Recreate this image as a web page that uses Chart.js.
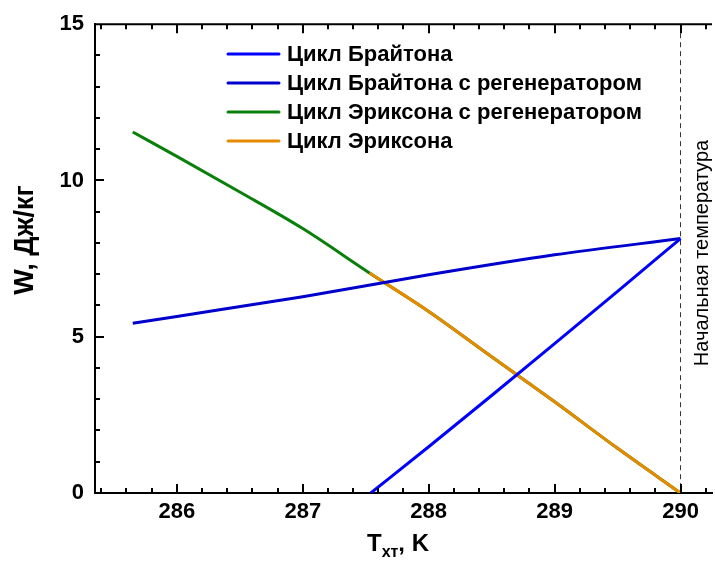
<!DOCTYPE html>
<html>
<head>
<meta charset="utf-8">
<script src="https://cdn.jsdelivr.net/npm/chart.js@4.4.1/dist/chart.umd.min.js"></script>
<style>
  html, body { margin: 0; padding: 0; background: #fff; }
  #wrap { width: 715px; height: 565px; }
</style>
</head>
<body>
<div id="wrap"><canvas id="chart"></canvas></div>
<script>
// values
const braytonT = [287.54, 288, 288.5, 289, 289.5, 290];
const braytonW = [0, 1.48, 3.12, 4.78, 6.45, 8.14];
const braytonRegT = [285.65, 286, 287, 288, 289, 290];
const braytonRegW = [5.43, 5.65, 6.28, 6.98, 7.62, 8.14];
const ericssonRegT = [285.65, 286, 286.5, 287, 287.53, 288, 288.5, 289, 289.5, 290];
const ericssonRegW = [11.55, 10.77, 9.63, 8.46, 7.04, 5.81, 4.36, 2.92, 1.43, 0];
const ericssonT = [287.53, 288, 288.5, 289, 289.5, 290];
const ericssonW = [7.04, 5.81, 4.36, 2.92, 1.43, 0];

const seriesLabels = [
  "Цикл Брайтона",
  "Цикл Брайтона с регенератором",
  "Цикл Эриксона с регенератором",
  "Цикл Эриксона"
];
const xTicks = [286, 287, 288, 289, 290];
const yTicks = [0, 5, 10, 15];
const startTemp = 290;
const startLabel = "Начальная температура";

const FONT = '"Liberation Sans", Arial, sans-serif';
Chart.defaults.font.family = FONT;

function pts(xs, ys) {
  return xs.map((x, i) => ({ x: x, y: ys[i] }));
}

// inward ticks, top line, dashed line, titles
const decor = {
  id: 'decor',
  beforeDatasetsDraw(chart) {
    const { ctx, chartArea: a, scales: { x } } = chart;
    const px = x.getPixelForValue(startTemp);
    ctx.save();
    ctx.strokeStyle = '#333';
    ctx.lineWidth = 1;
    ctx.setLineDash([5, 4]);
    ctx.beginPath();
    ctx.moveTo(px, a.top);
    ctx.lineTo(px, a.bottom);
    ctx.stroke();
    ctx.restore();
  },
  afterDraw(chart) {
    const { ctx, chartArea: a, scales: { x, y } } = chart;
    ctx.save();
    ctx.strokeStyle = '#000';
    ctx.lineWidth = 2;
    ctx.beginPath();
    ctx.moveTo(a.left - 1, a.top);
    ctx.lineTo(a.right, a.top);
    // x ticks, bottom and top
    for (let v = 285.4; v < 290.25; v += 0.2) {
      const p = Math.round(x.getPixelForValue(v));
      const major = xTicks.some(t => Math.abs(t - v) < 0.01);
      const len = major ? 9 : 5;
      ctx.moveTo(p, a.bottom);
      ctx.lineTo(p, a.bottom - len);
      ctx.moveTo(p, a.top);
      ctx.lineTo(p, a.top + len);
    }
    // y ticks, left
    for (let v = 1; v < 15; v += 1) {
      const p = Math.round(y.getPixelForValue(v));
      const len = yTicks.includes(v) ? 9 : 5;
      ctx.moveTo(a.left, p);
      ctx.lineTo(a.left + len, p);
    }
    ctx.stroke();

    // rotated label by the dashed line
    ctx.fillStyle = '#000';
    ctx.font = '20px ' + FONT;
    ctx.textAlign = 'center';
    ctx.textBaseline = 'middle';
    ctx.save();
    ctx.translate(x.getPixelForValue(startTemp) + 22, 253);
    ctx.rotate(-Math.PI / 2);
    ctx.fillText(startLabel, 0, 0);
    ctx.restore();

    // y title
    ctx.font = 'bold 27px ' + FONT;
    ctx.save();
    ctx.translate(26, 240);
    ctx.rotate(-Math.PI / 2);
    ctx.fillText("W, Дж/кг", 0, 0);
    ctx.restore();

    // x title with subscript
    ctx.textAlign = 'left';
    ctx.textBaseline = 'alphabetic';
    const big = 'bold 24px ' + FONT, small = 'bold 16px ' + FONT;
    ctx.font = big;
    const wT = ctx.measureText("T").width, wK = ctx.measureText(", K").width;
    ctx.font = small;
    const wS = ctx.measureText("хт").width;
    let tx = 398 - (wT + wS + wK) / 2;
    const base = 551;
    ctx.font = big; ctx.fillText("T", tx, base); tx += wT;
    ctx.font = small; ctx.fillText("хт", tx, base + 6); tx += wS;
    ctx.font = big; ctx.fillText(", K", tx, base);

    // legend
    ctx.font = 'bold 22px ' + FONT;
    ctx.textBaseline = 'middle';
    const rows = [54, 83, 112, 141];
    chart.data.datasets.forEach((ds, i) => {
      ctx.strokeStyle = ds.borderColor;
      ctx.lineWidth = 3;
      ctx.lineCap = 'round';
      ctx.beginPath();
      ctx.moveTo(228, rows[i]);
      ctx.lineTo(279, rows[i]);
      ctx.stroke();
      ctx.fillText(ds.label, 287, rows[i] + 1);
    });
    ctx.restore();
  }
};

new Chart(document.getElementById('chart'), {
  type: 'line',
  data: {
    datasets: [
      { label: seriesLabels[0], data: pts(braytonT, braytonW), borderColor: '#0000ff', order: 0 },
      { label: seriesLabels[1], data: pts(braytonRegT, braytonRegW), borderColor: '#0000cc', order: 1 },
      { label: seriesLabels[2], data: pts(ericssonRegT, ericssonRegW), borderColor: '#0a800a', order: 3 },
      { label: seriesLabels[3], data: pts(ericssonT, ericssonW), borderColor: '#e68a00', order: 2 }
    ]
  },
  options: {
    responsive: true,
    maintainAspectRatio: false,
    animation: false,
    layout: { padding: { left: 0, top: 23, right: 3, bottom: 0 } },
    elements: {
      line: { borderWidth: 3, cubicInterpolationMode: 'monotone', fill: false },
      point: { radius: 0 }
    },
    plugins: {
      legend: { display: false },
      tooltip: { enabled: false }
    },
    scales: {
      x: {
        type: 'linear',
        min: 285.35,
        max: 290.25,
        grid: { display: false, drawTicks: false },
        border: { color: '#000', width: 2 },
        ticks: { color: '#000', padding: 6, font: { size: 22, weight: 'bold' } },
        afterBuildTicks: s => { s.ticks = xTicks.map(v => ({ value: v })); },
        afterFit: s => { s.height = 72; }
      },
      y: {
        min: 0,
        max: 15,
        grid: { display: false, drawTicks: false },
        border: { color: '#000', width: 2 },
        ticks: { color: '#000', padding: 11, font: { size: 22, weight: 'bold' } },
        afterBuildTicks: s => { s.ticks = yTicks.map(v => ({ value: v })); },
        afterFit: s => { s.width = 95; }
      }
    }
  },
  plugins: [decor]
});
</script>
</body>
</html>
